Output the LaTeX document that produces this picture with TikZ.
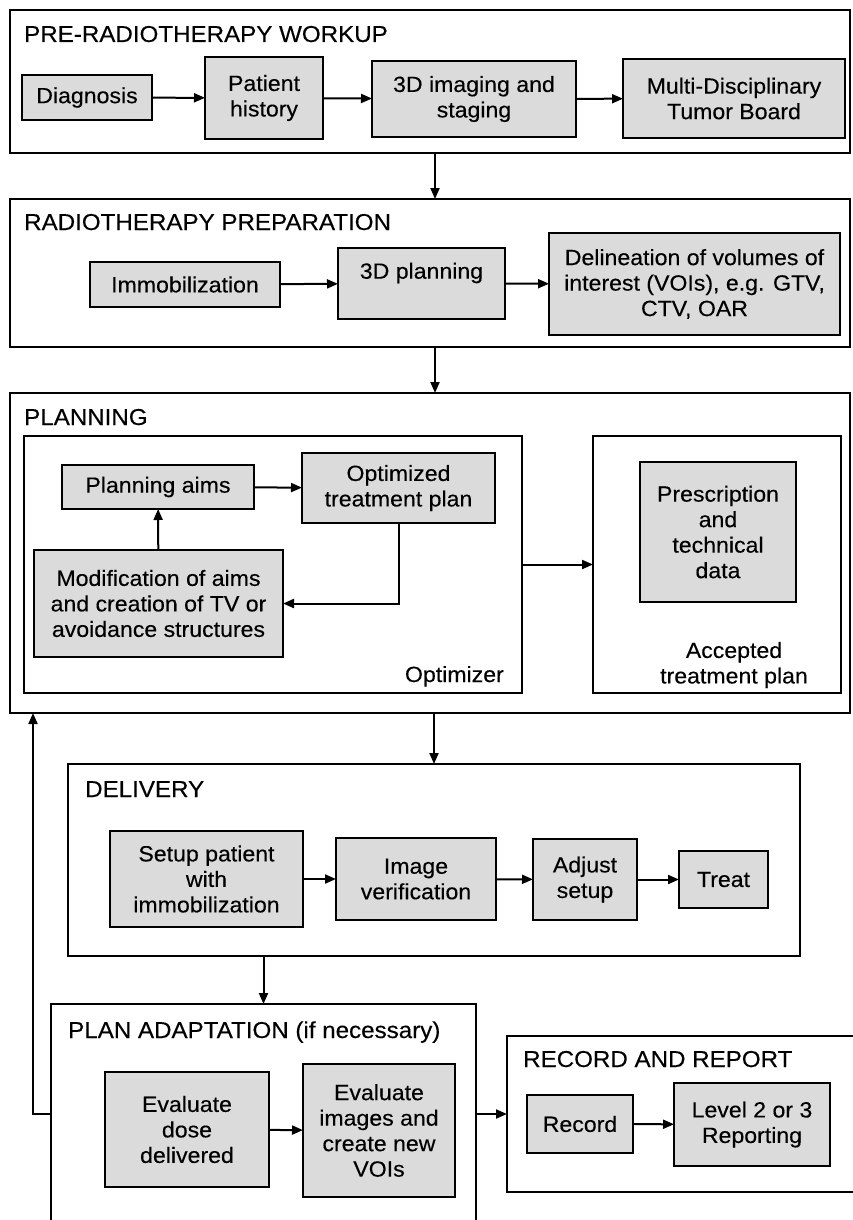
\documentclass[tikz,border=0pt]{standalone}
\usepackage{fontspec}
\setmainfont[FakeStretch=1.05, FakeBold=0.3]{Liberation Sans}
\usetikzlibrary{positioning,arrows.meta}
\definecolor{boxgray}{gray}{0.86}

\begin{document}
\begin{tikzpicture}[x=1pt, y=-1pt,
    font=\fontsize{22}{25.5}\selectfont,
    frame/.style={draw, line width=2.3pt, anchor=north west, inner sep=0pt, outer sep=0pt},
    stepbox/.style={draw, fill=boxgray, line width=2.6pt, align=center, inner sep=0pt, outer sep=0pt},
    title/.style={anchor=base west, inner sep=0pt, font=\fontsize{23}{26}\selectfont},
    arr/.style={-{Triangle[length=11pt,width=9pt]}, line width=2pt}]
    \useasboundingbox (0,0) rectangle (852,1220);

    % Frames
    \node[frame, minimum width=840, minimum height=143] (wrk) at (10,10) {};
    \node[frame, minimum width=840, minimum height=148] (prep) at (10,199) {};
    \node[frame, minimum width=840, minimum height=320] (plan) at (10,393) {};
    \node[frame, minimum width=498, minimum height=257] (optim) at (24,436) {};
    \node[frame, minimum width=248, minimum height=257] (accept) at (593,436) {};
    \node[frame, minimum width=732, minimum height=192] (deliv) at (68,764) {};
    \node[frame, minimum width=425, minimum height=240] (adapt) at (51,1004) {};
    \node[frame, minimum width=350, minimum height=156] (rr) at (507,1036) {};

    % Titles
    \node[title] (wrktitle) at (24,42) {PRE-RADIOTHERAPY WORKUP};
    \node[title] (preptitle) at (24,230) {RADIOTHERAPY PREPARATION};
    \node[title] (plantitle) at (24,425) {PLANNING};
    \node[title] (delivtitle) at (85,797) {DELIVERY};
    \node[title] (adapttitle) at (68,1038) {PLAN ADAPTATION (if necessary)};
    \node[title] (rrtitle) at (523,1067) {RECORD AND REPORT};
    \node[anchor=base east, inner sep=0pt] (optimlabel) at (504,682) {Optimizer};
    \node[align=center, inner sep=0pt] (acceptlabel) at (734,665) {Accepted\\treatment plan};

    % Pre-radiotherapy workup
    \node[stepbox, minimum width=130, minimum height=45] (diag) at (87,97.5) {Diagnosis};
    \node[stepbox, minimum width=118, minimum height=82] (hist) at (264,98) {Patient\\history};
    \node[stepbox, minimum width=204, minimum height=76] (imag) at (474,99) {3D imaging and\\staging};
    \node[stepbox, minimum width=222, minimum height=79] (board) at (734,98.5) {Multi-Disciplinary\\Tumor Board};

    % Radiotherapy preparation
    \node[stepbox, minimum width=190, minimum height=45] (immo) at (185,284.5) {Immobilization};
    \node[stepbox, minimum width=167, minimum height=71,
          label={[anchor=center, yshift=-25pt]north:3D planning}] (plan3d) at (421.5,283.5) {};
    \node[stepbox, minimum width=291, minimum height=102] (voi) at (694.5,284) {Delineation of volumes of\\interest (VOIs), e.g. GTV,\\CTV, OAR};

    % Planning
    \node[stepbox, minimum width=192, minimum height=44] (aims) at (158,487) {Planning aims};
    \node[stepbox, minimum width=193, minimum height=70] (optplan) at (398.5,488) {Optimized\\treatment plan};
    \node[stepbox, minimum width=249, minimum height=107] (modif) at (158.5,603.5) {Modification of aims\\and creation of TV or\\avoidance structures};
    \node[stepbox, minimum width=156, minimum height=140] (presc) at (718,532) {Prescription\\and\\technical\\data};

    % Delivery
    \node[stepbox, minimum width=193, minimum height=96] (setup) at (206.5,879) {Setup patient\\with\\immobilization};
    \node[stepbox, minimum width=160, minimum height=82] (verif) at (416,879) {Image\\verification};
    \node[stepbox, minimum width=104, minimum height=81] (adjust) at (585,879.5) {Adjust\\setup};
    \node[stepbox, minimum width=89, minimum height=57] (treat) at (723.5,879.5) {Treat};

    % Plan adaptation
    \node[stepbox, minimum width=164, minimum height=115] (evdose) at (187,1129.5) {Evaluate\\dose\\delivered};
    \node[stepbox, minimum width=152, minimum height=133] (evimg) at (379,1130.5) {Evaluate\\images and\\create new\\VOIs};

    % Record and report
    \node[stepbox, minimum width=106, minimum height=58] (record) at (580,1124) {Record};
    \node[stepbox, minimum width=156, minimum height=83] (report) at (752,1124.5) {Level 2 or 3\\Reporting};

    % Arrows
    \draw[arr] (diag) -- (hist);
    \draw[arr] (hist) -- (imag);
    \draw[arr] (imag) -- (board);
    \draw[arr] ([xshift=5pt]wrk.south) -- ([xshift=5pt]prep.north);
    \draw[arr] (immo) -- (plan3d);
    \draw[arr] (plan3d) -- (voi);
    \draw[arr] ([xshift=5pt]prep.south) -- ([xshift=5pt]plan.north);
    \draw[arr] (aims) -- (optplan);
    \draw[arr] (modif) -- (aims);
    \draw[arr] (optplan.south) |- (modif.east);
    \draw[arr] (optim) -- (accept);
    \draw[arr] (plan.south -| deliv.north) -- (deliv.north);
    \draw[arr] (setup) -- (verif);
    \draw[arr] (verif) -- (adjust);
    \draw[arr] (adjust) -- (treat);
    \draw[arr] (deliv.south -| adapt.north) -- (adapt.north);
    \draw[arr] (evdose) -- (evimg);
    \draw[arr] (rr.west -| adapt.east) -- (rr.west);
    \draw[arr] (record) -- (report);
    \coordinate (back) at (33,1114);
    \draw[arr] (adapt.west |- back) -- (back) -- (back |- plan.south);
\end{tikzpicture}
\end{document}
